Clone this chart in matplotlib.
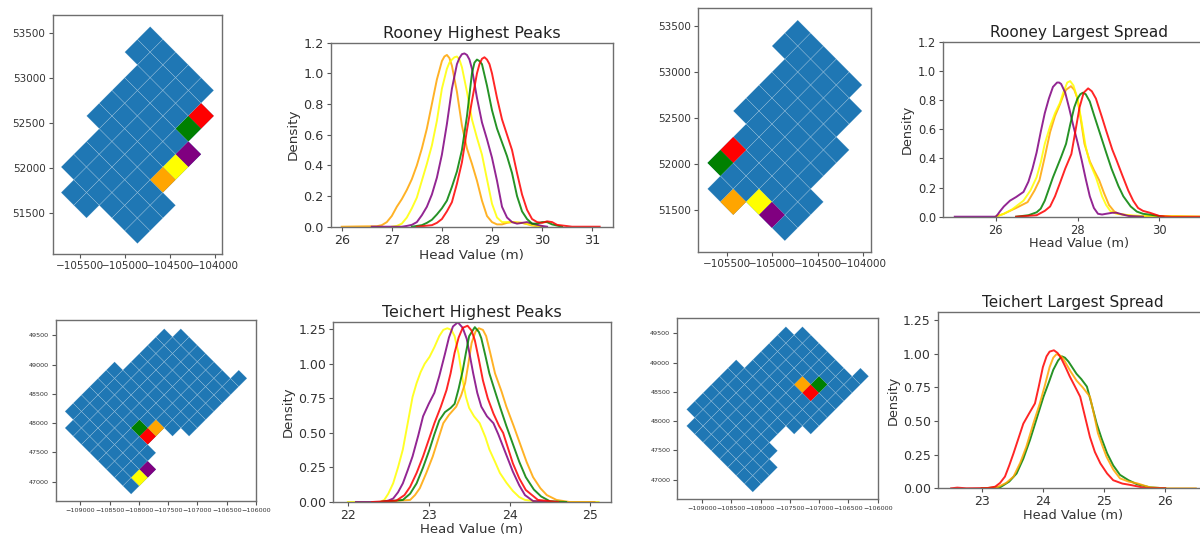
#Head value maps and density curves for Rooney and Teichert
import matplotlib
matplotlib.use('Agg')
import matplotlib.pyplot as plt

blue = '#1f77b4'
W, H = 1200, 538

#map grid, cells are (row, first col, last col + 1) on a 45 degree lattice
half_diag = 141.4
rooney_top = (-104720, 53568)
rooney_rows = [(0, -2, 0), (1, -6, 0), (2, -9, 0), (3, -10, 0), (4, -10, 0),
               (5, -9, -1), (6, -9, -3), (7, -9, -6)]
teichert_top = (-107567, 49614)
teichert_rows = [(-1, -11, -5), (0, -12, 0), (1, -12, 1), (2, -12, 1), (3, -12, 1),
                 (4, -12, 1), (5, -12, 1), (6, -12, -8), (6, -6, 1), (7, -12, -9), (7, -5, 2)]

#highlighted cells per panel
rooney_peaks = {'red': (5, -2), 'green': (5, -3), 'purple': (6, -4), 'yellow': (6, -5), 'orange': (6, -6)}
rooney_spread = {'red': (2, -8), 'green': (2, -9), 'yellow': (5, -9), 'purple': (6, -9), 'orange': (4, -10)}
teichert_peaks = {'red': (5, -8), 'green': (4, -8), 'orange': (5, -7), 'purple': (7, -10), 'yellow': (7, -11)}
teichert_spread = {'orange': (4, -3), 'red': (5, -3), 'green': (5, -2)}

#Rooney Highest Peaks
rp_orange_x = [26.0, 26.4, 26.7, 26.8, 26.9, 27.0, 27.1, 27.2, 27.3, 27.4, 27.5, 27.6, 27.7, 27.8, 27.9, 28.0, 28.05, 28.1, 28.15, 28.2, 28.3, 28.4, 28.5, 28.6, 28.7, 28.8, 28.9, 29.0, 29.1, 29.2, 29.3, 29.4, 29.6, 29.8, 30.0]
rp_orange_y = [0, 0.002, 0.003, 0.01, 0.03, 0.07, 0.13, 0.18, 0.24, 0.31, 0.40, 0.51, 0.64, 0.80, 0.96, 1.08, 1.11, 1.12, 1.10, 1.05, 0.88, 0.66, 0.51, 0.41, 0.30, 0.17, 0.07, 0.03, 0.015, 0.015, 0.025, 0.03, 0.025, 0.008, 0]
rp_yellow_x = [27.0, 27.1, 27.2, 27.3, 27.4, 27.5, 27.6, 27.7, 27.8, 27.9, 28.0, 28.1, 28.15, 28.2, 28.25, 28.3, 28.35, 28.4, 28.5, 28.6, 28.7, 28.8, 28.9, 29.0, 29.1, 29.2, 29.3, 29.4, 29.6, 29.8, 30.0]
rp_yellow_y = [0, 0.005, 0.02, 0.06, 0.12, 0.19, 0.30, 0.41, 0.53, 0.69, 0.90, 1.03, 1.07, 1.09, 1.105, 1.11, 1.09, 1.04, 0.88, 0.70, 0.58, 0.47, 0.31, 0.15, 0.06, 0.03, 0.03, 0.03, 0.025, 0.012, 0]
rp_purple_x = [26.6, 27.2, 27.3, 27.4, 27.5, 27.6, 27.7, 27.8, 27.9, 28.0, 28.1, 28.2, 28.3, 28.35, 28.4, 28.45, 28.5, 28.55, 28.6, 28.7, 28.8, 28.9, 29.0, 29.1, 29.2, 29.3, 29.4, 29.5, 29.6, 29.7, 29.8, 30.0, 30.1]
rp_purple_y = [0, 0, 0.005, 0.012, 0.03, 0.075, 0.13, 0.21, 0.32, 0.47, 0.67, 0.90, 1.06, 1.10, 1.125, 1.13, 1.12, 1.09, 1.03, 0.84, 0.68, 0.57, 0.45, 0.30, 0.13, 0.06, 0.03, 0.02, 0.025, 0.03, 0.02, 0.005, 0]
rp_green_x = [27.4, 27.6, 27.7, 27.8, 27.9, 28.0, 28.1, 28.2, 28.3, 28.4, 28.5, 28.55, 28.6, 28.65, 28.7, 28.75, 28.8, 28.9, 29.0, 29.1, 29.2, 29.3, 29.4, 29.5, 29.6, 29.7, 29.8, 29.9, 30.0, 30.1, 30.2, 30.4]
rp_green_y = [0, 0.01, 0.025, 0.045, 0.08, 0.12, 0.17, 0.26, 0.36, 0.50, 0.72, 0.86, 1.0, 1.07, 1.09, 1.08, 1.06, 0.92, 0.76, 0.64, 0.55, 0.46, 0.35, 0.20, 0.10, 0.05, 0.02, 0.02, 0.03, 0.03, 0.015, 0]
rp_red_x = [27.5, 27.8, 27.9, 28.0, 28.1, 28.2, 28.3, 28.4, 28.5, 28.6, 28.7, 28.75, 28.8, 28.85, 28.9, 28.95, 29.0, 29.1, 29.2, 29.3, 29.4, 29.5, 29.6, 29.7, 29.8, 29.9, 30.0, 30.1, 30.2, 30.3, 30.6, 31.15]
rp_red_y = [0, 0.01, 0.025, 0.05, 0.10, 0.16, 0.28, 0.42, 0.63, 0.82, 1.0, 1.06, 1.095, 1.105, 1.09, 1.06, 1.0, 0.84, 0.70, 0.60, 0.50, 0.35, 0.21, 0.11, 0.05, 0.03, 0.025, 0.035, 0.03, 0.012, 0, 0]

#Rooney Largest Spread
rs_purple_x = [25.0, 26.0, 26.05, 26.1, 26.2, 26.35, 26.5, 26.68, 26.8, 26.9, 27.0, 27.1, 27.2, 27.3, 27.4, 27.5, 27.55, 27.6, 27.7, 27.8, 27.9, 28.0, 28.1, 28.2, 28.3, 28.4, 28.5, 28.6, 28.7, 28.85, 28.95, 29.1, 29.25, 29.6]
rs_purple_y = [0, 0, 0.015, 0.035, 0.07, 0.11, 0.135, 0.17, 0.24, 0.33, 0.44, 0.58, 0.71, 0.81, 0.89, 0.92, 0.92, 0.91, 0.85, 0.74, 0.62, 0.51, 0.39, 0.26, 0.14, 0.06, 0.02, 0.015, 0.02, 0.027, 0.027, 0.015, 0.005, 0]
rs_yellow_x = [26.0, 26.2, 26.4, 26.68, 26.85, 27.0, 27.1, 27.2, 27.33, 27.45, 27.57, 27.65, 27.75, 27.82, 27.9, 28.0, 28.1, 28.2, 28.3, 28.45, 28.6, 28.7, 28.8, 28.95, 29.1, 29.27, 29.6, 30.4, 31.2]
rs_yellow_y = [0, 0.02, 0.05, 0.11, 0.18, 0.27, 0.37, 0.50, 0.62, 0.71, 0.78, 0.85, 0.92, 0.93, 0.90, 0.81, 0.65, 0.48, 0.37, 0.27, 0.14, 0.08, 0.04, 0.02, 0.015, 0.01, 0.005, 0.005, 0]
rs_orange_x = [26.0, 26.2, 26.5, 26.78, 26.95, 27.07, 27.2, 27.33, 27.45, 27.57, 27.65, 27.72, 27.84, 27.92, 28.0, 28.1, 28.17, 28.3, 28.4, 28.53, 28.65, 28.77, 28.9, 29.0, 29.35, 30.0]
rs_orange_y = [0, 0.02, 0.06, 0.10, 0.18, 0.25, 0.41, 0.58, 0.69, 0.77, 0.83, 0.87, 0.895, 0.87, 0.81, 0.63, 0.50, 0.38, 0.32, 0.25, 0.16, 0.08, 0.035, 0.02, 0.005, 0]
rs_green_x = [26.5, 26.8, 27.0, 27.1, 27.2, 27.3, 27.4, 27.5, 27.6, 27.72, 27.82, 27.92, 28.0, 28.07, 28.13, 28.2, 28.3, 28.4, 28.55, 28.7, 28.83, 29.0, 29.12, 29.3, 29.45, 29.6, 29.77, 30.1]
rs_green_y = [0, 0.01, 0.03, 0.055, 0.11, 0.19, 0.27, 0.34, 0.41, 0.50, 0.63, 0.75, 0.81, 0.84, 0.85, 0.84, 0.79, 0.70, 0.57, 0.44, 0.33, 0.21, 0.14, 0.07, 0.035, 0.02, 0.014, 0]
rs_red_x = [26.5, 27.0, 27.2, 27.33, 27.45, 27.57, 27.7, 27.85, 27.95, 28.05, 28.15, 28.26, 28.35, 28.45, 28.6, 28.7, 28.85, 28.95, 29.1, 29.24, 29.36, 29.48, 29.6, 29.77, 30.0, 30.3, 31.0]
rs_red_y = [0, 0.01, 0.04, 0.07, 0.14, 0.23, 0.33, 0.43, 0.59, 0.75, 0.85, 0.88, 0.86, 0.81, 0.68, 0.59, 0.46, 0.39, 0.28, 0.18, 0.11, 0.06, 0.04, 0.027, 0.005, 0, 0]

#Teichert Highest Peaks
tp_yellow_x = [22.0, 22.4, 22.45, 22.5, 22.56, 22.62, 22.68, 22.74, 22.8, 22.85, 22.9, 22.95, 23.01, 23.07, 23.13, 23.18, 23.23, 23.28, 23.32, 23.37, 23.42, 23.46, 23.5, 23.56, 23.63, 23.7, 23.75, 23.82, 23.88, 23.96, 24.04, 24.12, 24.19, 24.4, 25.1]
tp_yellow_y = [0, 0, 0.015, 0.06, 0.135, 0.25, 0.38, 0.57, 0.76, 0.86, 0.94, 1.0, 1.05, 1.12, 1.2, 1.245, 1.257, 1.245, 1.2, 1.07, 0.88, 0.76, 0.68, 0.62, 0.57, 0.47, 0.38, 0.29, 0.21, 0.14, 0.08, 0.035, 0.015, 0, 0]
tp_purple_x = [22.1, 22.4, 22.5, 22.56, 22.62, 22.68, 22.74, 22.8, 22.87, 22.93, 23.0, 23.07, 23.13, 23.2, 23.25, 23.3, 23.36, 23.42, 23.47, 23.55, 23.6, 23.65, 23.72, 23.8, 23.86, 23.92, 23.98, 24.04, 24.12, 24.19, 24.29, 24.6]
tp_purple_y = [0, 0, 0.01, 0.025, 0.07, 0.135, 0.23, 0.33, 0.48, 0.62, 0.71, 0.79, 0.91, 1.07, 1.19, 1.27, 1.3, 1.26, 1.18, 0.93, 0.79, 0.69, 0.62, 0.57, 0.49, 0.40, 0.31, 0.22, 0.12, 0.05, 0.007, 0]
tp_red_x = [22.3, 22.6, 22.7, 22.77, 22.85, 22.93, 23.0, 23.07, 23.15, 23.22, 23.27, 23.32, 23.37, 23.42, 23.48, 23.53, 23.57, 23.62, 23.67, 23.73, 23.8, 23.87, 23.92, 23.98, 24.04, 24.12, 24.2, 24.35, 24.6]
tp_red_y = [0, 0.01, 0.05, 0.11, 0.21, 0.33, 0.45, 0.57, 0.69, 0.81, 0.93, 1.08, 1.19, 1.26, 1.275, 1.24, 1.17, 1.03, 0.88, 0.75, 0.64, 0.55, 0.5, 0.39, 0.28, 0.17, 0.087, 0.015, 0]
tp_green_x = [22.4, 22.68, 22.77, 22.85, 22.93, 23.01, 23.07, 23.13, 23.2, 23.27, 23.32, 23.37, 23.42, 23.46, 23.5, 23.57, 23.62, 23.65, 23.7, 23.75, 23.82, 23.88, 23.96, 24.04, 24.12, 24.2, 24.3, 24.39, 24.5, 24.7]
tp_green_y = [0, 0.015, 0.06, 0.135, 0.25, 0.38, 0.49, 0.59, 0.65, 0.68, 0.71, 0.82, 0.95, 1.08, 1.2, 1.265, 1.23, 1.185, 1.06, 0.93, 0.8, 0.69, 0.55, 0.42, 0.29, 0.18, 0.09, 0.04, 0.005, 0]
tp_orange_x = [22.4, 22.77, 22.83, 22.89, 22.97, 23.05, 23.12, 23.18, 23.25, 23.34, 23.4, 23.45, 23.49, 23.53, 23.58, 23.62, 23.67, 23.71, 23.76, 23.82, 23.9, 23.96, 24.05, 24.13, 24.21, 24.29, 24.38, 24.46, 24.58, 24.74, 25.05]
tp_orange_y = [0, 0.015, 0.05, 0.1, 0.21, 0.33, 0.46, 0.57, 0.63, 0.69, 0.77, 0.86, 1.0, 1.15, 1.235, 1.257, 1.245, 1.2, 1.08, 0.93, 0.8, 0.69, 0.55, 0.42, 0.29, 0.18, 0.10, 0.05, 0.015, 0, 0]

#Teichert Largest Spread
ts_green_x = [23.0, 23.3, 23.45, 23.57, 23.68, 23.79, 23.9, 24.01, 24.1, 24.17, 24.25, 24.31, 24.36, 24.42, 24.55, 24.63, 24.72, 24.8, 24.88, 24.96, 25.05, 25.15, 25.26, 25.4, 25.54, 25.75, 26.0]
ts_green_y = [0, 0.007, 0.05, 0.11, 0.22, 0.36, 0.52, 0.68, 0.79, 0.88, 0.95, 0.98, 0.97, 0.94, 0.85, 0.81, 0.755, 0.62, 0.48, 0.37, 0.26, 0.17, 0.1, 0.06, 0.03, 0.007, 0]
ts_orange_x = [23.0, 23.25, 23.4, 23.52, 23.63, 23.73, 23.85, 23.95, 24.03, 24.11, 24.17, 24.22, 24.27, 24.33, 24.45, 24.55, 24.65, 24.77, 24.84, 24.9, 24.97, 25.04, 25.15, 25.26, 25.4, 25.54, 25.75, 26.0, 26.5]
ts_orange_y = [0, 0.007, 0.04, 0.087, 0.19, 0.31, 0.49, 0.63, 0.76, 0.9, 0.97, 0.995, 0.99, 0.965, 0.87, 0.8, 0.75, 0.68, 0.54, 0.41, 0.32, 0.235, 0.14, 0.074, 0.05, 0.037, 0.007, 0, 0]
ts_red_x = [22.5, 22.6, 22.75, 23.1, 23.22, 23.3, 23.38, 23.45, 23.52, 23.6, 23.68, 23.78, 23.87, 23.93, 24.0, 24.06, 24.11, 24.18, 24.24, 24.3, 24.37, 24.44, 24.52, 24.61, 24.69, 24.77, 24.85, 24.94, 25.05, 25.15, 25.3, 25.43, 25.7, 26.0]
ts_red_y = [0, 0.005, 0, 0.002, 0.012, 0.04, 0.087, 0.17, 0.26, 0.37, 0.48, 0.56, 0.63, 0.75, 0.9, 0.98, 1.015, 1.025, 1.005, 0.965, 0.9, 0.83, 0.76, 0.68, 0.53, 0.38, 0.27, 0.185, 0.11, 0.06, 0.035, 0.025, 0, 0]

rooney_xticks = [-105500, -105000, -104500, -104000]
rooney_yticks = [51500, 52000, 52500, 53000, 53500]
teichert_xticks = [-109000, -108500, -108000, -107500, -107000, -106500, -106000]
teichert_yticks = [47000, 47500, 48000, 48500, 49000, 49500]

fig = plt.figure(figsize=(W/100, H/100), dpi=100)


def add_axes(left, right, top, bottom):
    #pixel box to figure fractions
    ax = fig.add_axes([left/W, 1 - bottom/H, (right - left)/W, (bottom - top)/H])
    for s in ax.spines.values():
        s.set_color('#6e6e6e')
        s.set_linewidth(1.0)
    return ax


def cell_poly(top, a, b):
    xs, ys = [], []
    for da, db in [(0, 0), (1, 0), (1, 1), (0, 1)]:
        xs.append(top[0] + (a + da + b + db)*half_diag)
        ys.append(top[1] + (b + db - a - da)*half_diag)
    return xs, ys


def draw_map(box, top, rows, marked, xticks, yticks, xlim, ylim, size):
    ax = add_axes(*box)
    for a, b0, b1 in rows:
        for b in range(b0, b1):
            xs, ys = cell_poly(top, a, b)
            ax.fill(xs, ys, facecolor=blue, edgecolor=(1, 1, 1, 0.22), linewidth=0.4)
    for color, (a, b) in marked.items():
        xs, ys = cell_poly(top, a, b)
        ax.fill(xs, ys, facecolor=color, edgecolor='none', zorder=3)
    ax.set_xlim(xlim)
    ax.set_ylim(ylim)
    ax.set_xticks(xticks)
    ax.set_yticks(yticks)
    ax.tick_params(labelsize=size, labelcolor='#333333', color='#555555', length=3, pad=2)
    return ax


def draw_density(box, title, curves, xticks, yticks, ylabels, xlim, ylim, fonts, xlabel_y, ylabel_x):
    left, right, top, bottom = box
    title_size, tick_size, label_size = fonts
    ax = add_axes(*box)
    for x, y, color in curves:
        ax.plot(x, y, color=color, linewidth=1.4, alpha=0.85)
    ax.set_xlim(xlim)
    ax.set_ylim(ylim)
    ax.set_xticks(xticks)
    ax.set_yticks(yticks)
    ax.set_yticklabels(ylabels)
    ax.tick_params(labelsize=tick_size, labelcolor='#333333', color='#555555', length=3, pad=2)
    ax.set_title(title, fontsize=title_size, color='#222222', pad=3.5)
    ax.set_xlabel('Head Value (m)', fontsize=label_size, color='#333333', va='center')
    ax.set_ylabel('Density', fontsize=label_size, color='#333333', va='center')
    ax.xaxis.set_label_coords(0.5, (bottom - xlabel_y)/(bottom - top))
    ax.yaxis.set_label_coords((ylabel_x - left)/(right - left), 0.5)
    return ax


draw_map((52.5, 222, 15, 254), rooney_top, rooney_rows, rooney_peaks, rooney_xticks, rooney_yticks,
         (-105805, -103922), (51049, 53696), 7.5)
draw_map((698, 871, 8, 252), rooney_top, rooney_rows, rooney_spread, rooney_xticks, rooney_yticks,
         (-105814, -103916), (51043, 53699), 7.5)
draw_map((55.7, 256.3, 320, 501), teichert_top, teichert_rows, teichert_peaks, teichert_xticks, teichert_yticks,
         (-109421, -105995), (46670, 49762), 4.6)
draw_map((677.3, 877.7, 318.3, 499.3), teichert_top, teichert_rows, teichert_spread, teichert_xticks, teichert_yticks,
         (-109421, -106000), (46664, 49756), 4.6)

draw_density((330.7, 612.7, 42.7, 226.7), 'Rooney Highest Peaks',
             [(rp_orange_x, rp_orange_y, 'orange'), (rp_yellow_x, rp_yellow_y, 'yellow'),
              (rp_purple_x, rp_purple_y, 'purple'), (rp_green_x, rp_green_y, 'green'),
              (rp_red_x, rp_red_y, 'red')],
             [26, 27, 28, 29, 30, 31], [0, 0.2, 0.4, 0.6, 0.8, 1.0, 1.2],
             ['0.0', '0.2', '0.4', '0.6', '0.8', '1.0', '1.2'], (25.78, 31.41), (0, 1.2),
             (11.5, 9.2, 9.7), 255, 293)
draw_density((943.3, 1215, 41.7, 216.7), 'Rooney Largest Spread',
             [(rs_orange_x, rs_orange_y, 'orange'), (rs_yellow_x, rs_yellow_y, 'yellow'),
              (rs_purple_x, rs_purple_y, 'purple'), (rs_green_x, rs_green_y, 'green'),
              (rs_red_x, rs_red_y, 'red')],
             [26, 28, 30], [0, 0.2, 0.4, 0.6, 0.8, 1.0, 1.2],
             ['0.0', '0.2', '0.4', '0.6', '0.8', '1.0', '1.2'], (24.72, 31.36), (0, 1.2),
             (11, 8.3, 9.3), 243, 907)
draw_density((333.3, 610.7, 322.3, 502), 'Teichert Highest Peaks',
             [(tp_yellow_x, tp_yellow_y, 'yellow'), (tp_orange_x, tp_orange_y, 'orange'),
              (tp_purple_x, tp_purple_y, 'purple'), (tp_green_x, tp_green_y, 'green'),
              (tp_red_x, tp_red_y, 'red')],
             [22, 23, 24, 25], [0, 0.25, 0.5, 0.75, 1.0, 1.25],
             ['0.00', '0.25', '0.50', '0.75', '1.00', '1.25'], (21.82, 25.25), (0, 1.30),
             (11.4, 9, 9.5), 530, 288)
draw_density((937.7, 1208, 312.3, 488.3), 'Teichert Largest Spread',
             [(ts_green_x, ts_green_y, 'green'), (ts_orange_x, ts_orange_y, 'orange'),
              (ts_red_x, ts_red_y, 'red')],
             [23, 24, 25, 26], [0, 0.25, 0.5, 0.75, 1.0, 1.25],
             ['0.00', '0.25', '0.50', '0.75', '1.00', '1.25'], (22.28, 26.70), (0, 1.307),
             (11, 9, 9.3), 515, 893)

plt.savefig('out.png', dpi=100)
